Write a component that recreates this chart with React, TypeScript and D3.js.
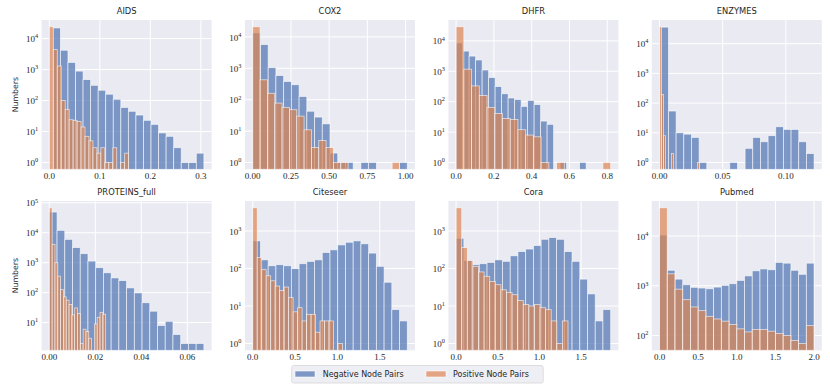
import React from "react";
import * as d3 from "d3";

// ---------- data ----------
const titles = ["AIDS", "COX2", "DHFR", "ENZYMES", "PROTEINS_full", "Citeseer", "Cora", "Pubmed"];

// bin ranges [min, max] (20 equal bins each)
const negRanges = [
  [0.007, 0.306], [0, 1.011], [0, 0.688], [0.001, 0.1224],
  [0, 0.0672], [0, 1.825], [0, 1.855], [0, 2.0],
];
const posRanges = [
  [0, 0.157], [0, 0.96], [0, 0.818], [0, 0.0316],
  [0, 0.0245], [0, 1.06], [0, 1.343], [0, 2.0],
];

const aidsNeg = [22000, 4200, 1700, 890, 475, 310, 215, 160, 110, 60, 45, 34, 23, 17, 9, 7, 3, 1, 1, 2];
const aidsPos = [24000, 4400, 1300, 100, 52, 24, 23, 21, 14, 7, 5, 3, 2, 3, 1, 1, 3, 0, 1, 2];
const cox2Neg = [13500, 5700, 1050, 590, 380, 300, 127, 43, 28, 17, 2, 1, 1, 0, 1, 1, 0, 0, 0, 1];
const cox2Pos = [21000, 430, 160, 78, 57, 48, 30, 11, 3, 5, 3, 1, 1, 0, 0, 0, 0, 0, 0, 1];
const dhfrNeg = [8600, 4600, 3150, 2350, 1100, 620, 315, 182, 132, 117, 70, 110, 80, 23, 18, 0, 1, 0, 0, 1];
const dhfrPos = [29000, 1170, 330, 160, 65, 41, 28, 26, 12, 8, 7, 1, 0, 1, 0, 0, 0, 0, 0, 1];
const enzNeg = [36000, 54, 10, 9, 7, 1, 0, 0, 0, 1, 0, 3, 7, 5, 8, 16, 13, 13, 5, 2];
const enzPos = [37000, 196, 8, 0, 0, 0, 2, 0, 0, 0, 0, 0, 0, 0, 0, 0, 0, 0, 0, 1];
const protNeg = [49000, 12000, 6000, 3200, 2000, 1130, 680, 460, 310, 252, 144, 98, 46, 24, 8, 11, 4, 2, 2, 2];
const protPos = [68000, 4100, 1000, 355, 126, 72, 56, 40, 18, 31, 20, 2, 6, 5, 3, 0, 9, 15, 22, 19];
const citeNeg = [545, 170, 118, 126, 118, 99, 134, 154, 170, 267, 314, 425, 500, 545, 455, 257, 114, 43, 8, 4];
const citePos = [4150, 196, 93, 64, 47, 34, 26, 32, 17, 7, 9, 4, 6, 6, 2, 4, 4, 4, 0, 1];
const coraNeg = [640, 164, 126, 134, 145, 170, 155, 218, 283, 330, 410, 600, 665, 600, 283, 155, 52, 21, 4, 8];
const coraPos = [4150, 363, 164, 114, 81, 62, 45, 37, 27, 23, 20, 14, 11, 10, 11, 9, 8, 4, 1, 4];
const pubNeg = [10500, 2050, 1360, 1050, 930, 900, 870, 940, 1020, 1100, 1280, 1580, 2000, 2180, 2100, 2950, 2850, 2050, 1700, 2850];
const pubPos = [37000, 1740, 855, 525, 375, 316, 243, 215, 194, 166, 136, 118, 132, 132, 122, 110, 100, 79, 69, 158];

const negCounts = [aidsNeg, cox2Neg, dhfrNeg, enzNeg, protNeg, citeNeg, coraNeg, pubNeg];
const posCounts = [aidsPos, cox2Pos, dhfrPos, enzPos, protPos, citePos, coraPos, pubPos];

const xTicks = [
  [0, 0.1, 0.2, 0.3],
  [0, 0.25, 0.5, 0.75, 1.0],
  [0, 0.2, 0.4, 0.6, 0.8],
  [0, 0.05, 0.1],
  [0, 0.02, 0.04, 0.06],
  [0, 0.5, 1.0, 1.5],
  [0, 0.5, 1.0, 1.5],
  [0, 0.5, 1.0, 1.5, 2.0],
];
const xTickLabels = [
  ["0.0", "0.1", "0.2", "0.3"],
  ["0.00", "0.25", "0.50", "0.75", "1.00"],
  ["0.0", "0.2", "0.4", "0.6", "0.8"],
  ["0.00", "0.05", "0.10"],
  ["0.00", "0.02", "0.04", "0.06"],
  ["0.0", "0.5", "1.0", "1.5"],
  ["0.0", "0.5", "1.0", "1.5"],
  ["0.0", "0.5", "1.0", "1.5", "2.0"],
];

const legendLabels = ["Negative Node Pairs", "Positive Node Pairs"];

// ---------- style ----------
const BLUE = "#4C72B0";
const ORANGE = "#DD8452";
const BG = "#EAEAF2";
const TXT = "#262626";
const SERIF = "'Liberation Serif', 'DejaVu Serif', serif";
const SANS = "'DejaVu Sans', sans-serif";

const panelW = 170;
const panelH = 149.3;
const colLeft = (c: number) => 41.6 + c * 203.4;
const rowTop = (r: number) => (r === 0 ? 20 : 201);

function binEdges(range: number[], n: number) {
  const w = (range[1] - range[0]) / n;
  return d3.range(n + 1).map((i) => range[0] + i * w);
}

function Panel({ idx }: { idx: number }) {
  const r = Math.floor(idx / 4);
  const c = idx % 4;
  const left = colLeft(c);
  const top = rowTop(r);
  const bottom = top + panelH;
  const neg = negCounts[idx];
  const pos = posCounts[idx];
  const nr = negRanges[idx];
  const pr = posRanges[idx];

  const xmin = Math.min(nr[0], pr[0]);
  const xmax = Math.max(nr[1], pr[1]);
  const xm = (xmax - xmin) * 0.05;
  const x = d3.scaleLinear().domain([xmin - xm, xmax + xm]).range([left, left + panelW]);

  const all = [...neg, ...pos].filter((v) => v > 0);
  const lmin = Math.log10(d3.min(all) as number);
  const lmax = Math.log10(d3.max(all) as number);
  const lm = (lmax - lmin) * 0.05;
  const y = d3.scaleLog().domain([Math.pow(10, lmin - lm), Math.pow(10, lmax + lm)]).range([bottom, top]);

  const decades = d3.range(Math.ceil(lmin - lm), Math.floor(lmax + lm) + 1);

  const renderBars = (counts: number[], range: number[], color: string) => {
    const edges = binEdges(range, counts.length);
    return counts.map((v, i) =>
      v > 0 ? (
        <rect
          key={i}
          x={x(edges[i])}
          y={y(v)}
          width={x(edges[i + 1]) - x(edges[i])}
          height={bottom - y(v)}
          fill={color}
          fillOpacity={0.7}
          stroke="#ffffff"
          strokeOpacity={0.7}
          strokeWidth={0.8}
        />
      ) : null
    );
  };

  return (
    <g>
      <rect x={left} y={top} width={panelW} height={panelH} fill={BG} />
      {xTicks[idx].map((t, i) => (
        <line key={"gx" + i} x1={x(t)} x2={x(t)} y1={top} y2={bottom} stroke="#fff" strokeWidth={1} />
      ))}
      {decades.map((d) => (
        <line key={"gy" + d} x1={left} x2={left + panelW} y1={y(Math.pow(10, d))} y2={y(Math.pow(10, d))} stroke="#fff" strokeWidth={1} />
      ))}
      <g>{renderBars(neg, nr, BLUE)}</g>
      <g>{renderBars(pos, pr, ORANGE)}</g>
      {xTicks[idx].map((t, i) => (
        <text key={"tx" + i} x={x(t)} y={bottom + 9.2} textAnchor="middle" fontFamily={SERIF} fontSize={9} fill={TXT}>
          {xTickLabels[idx][i]}
        </text>
      ))}
      {decades.map((d) => (
        <text key={"ty" + d} x={left - 3.5} y={y(Math.pow(10, d)) + 3.6} textAnchor="end" fontFamily={SERIF} fontSize={9} fill={TXT}>
          <tspan>10</tspan>
          <tspan dy={-3.8} fontSize={6.3}>{String(d)}</tspan>
        </text>
      ))}
      <text x={left + panelW / 2} y={top - 6} textAnchor="middle" fontFamily={SANS} fontSize={8.3} fill={TXT}>
        {titles[idx]}
      </text>
      {c === 0 ? (
        <text
          transform={`translate(${left - 23.3},${(top + bottom) / 2}) rotate(-90)`}
          textAnchor="middle"
          fontFamily={SANS}
          fontSize={7.8}
          fill={TXT}
        >
          Numbers
        </text>
      ) : null}
    </g>
  );
}

export default function App() {
  return (
    <svg
      width={830}
      height={388}
      style={{ position: "absolute", left: 0, top: 0, background: "#fff" }}
    >
      {titles.map((_, i) => (
        <Panel key={i} idx={i} />
      ))}
      <g>
        <rect x={291.7} y={365.5} width={251.5} height={17.5} rx={2} fill="#EEEEF5" stroke="#D6D6D6" strokeWidth={0.8} />
        <rect x={295} y={371} width={20} height={6} fill={BLUE} fillOpacity={0.7} stroke="#fff" strokeOpacity={0.7} strokeWidth={0.8} />
        <text x={322.7} y={377.3} fontFamily={SANS} fontSize={8} fill={TXT}>{legendLabels[0]}</text>
        <rect x={426} y={371} width={20} height={6} fill={ORANGE} fillOpacity={0.7} stroke="#fff" strokeOpacity={0.7} strokeWidth={0.8} />
        <text x={453} y={377.3} fontFamily={SANS} fontSize={8} fill={TXT}>{legendLabels[1]}</text>
      </g>
    </svg>
  );
}
